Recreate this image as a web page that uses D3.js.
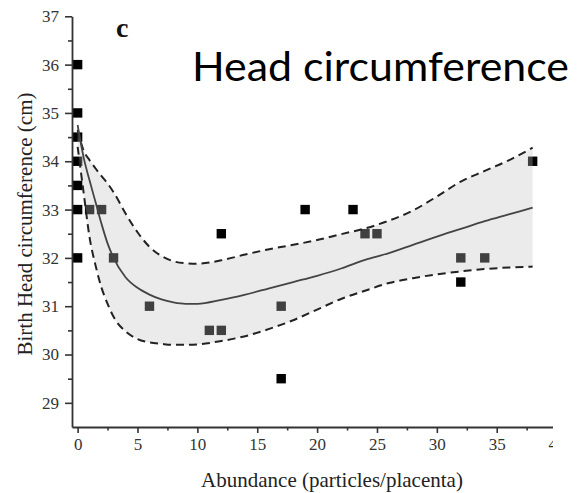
<!DOCTYPE html>
<html><head><meta charset="utf-8">
<script src="https://cdn.jsdelivr.net/npm/d3@7"></script>
<style>html,body{margin:0;padding:0;background:#fff}svg{display:block}</style>
</head><body>
<svg id="chart" width="585" height="493"></svg>
<script>
// ---- data ----
const pointX = [0,0,0,0,0,0,0,1,2,3,6,11,12,12,17,17,19,23,24,25,32,34,32,38];
const pointY = [36,35,34.5,34,33.5,33,32,33,33,32,31,30.5,30.5,32.5,31,29.5,33,33,32.5,32.5,32,32,31.5,34];
const curveX = [0,0.5,1,1.5,2,2.5,3,4,5,6,7,8,9,10,12,14,16,18,20,22,24,26,28,30,32,34,36,38];
const fitY   = [34.75,34.08,33.6,33.15,32.7,32.3,32.0,31.6,31.38,31.24,31.14,31.08,31.05,31.05,31.13,31.24,31.37,31.5,31.63,31.78,31.96,32.1,32.27,32.44,32.6,32.76,32.9,33.04];
const upperY = [34.65,34.22,34.02,33.85,33.69,33.54,33.36,32.92,32.53,32.23,32.04,31.93,31.89,31.88,31.95,32.07,32.18,32.27,32.37,32.49,32.61,32.77,32.98,33.27,33.58,33.8,34.02,34.28];
const lowerY = [34.3,33.35,32.42,31.84,31.38,31.05,30.78,30.48,30.32,30.25,30.22,30.2,30.2,30.21,30.28,30.38,30.53,30.71,30.93,31.15,31.32,31.48,31.58,31.66,31.72,31.77,31.8,31.82];
const xTicks = [0,5,10,15,20,25,30,35,40];
const xMinor = [2.5,7.5,12.5,17.5,22.5,27.5,32.5,37.5];
const yTicks = [29,30,31,32,33,34,35,36,37];
const yMinor = [29.5,30.5,31.5,32.5,33.5,34.5,35.5,36.5];
const xLabel = "Abundance (particles/placenta)";
const yLabel = "Birth Head circumference (cm)";
const panelLabel = "c";
const title = "Head circumference";

// ---- chart ----
const svg = d3.select("#chart");
const x = d3.scaleLinear().domain([-0.47, 39.7]).range([72, 553]);
const y = d3.scaleLinear().domain([28.5, 37]).range([427, 16.3]);
const serif = "'Liberation Serif','Times New Roman',serif";
const axisColor = "#333";

// points
svg.append("g").selectAll("rect").data(pointX.map((d,i)=>[d,pointY[i]])).join("rect")
  .attr("x", d=>x(d[0])-4.7).attr("y", d=>y(d[1])-4.7)
  .attr("width", 9.4).attr("height", 9.4).attr("fill", "#000");

const curve = curveX.map((d,i)=>({x:d, f:fitY[i], u:upperY[i], l:lowerY[i]}));
// band
svg.append("path").datum(curve)
  .attr("d", d3.area().x(d=>x(d.x)).y0(d=>y(d.l)).y1(d=>y(d.u)).curve(d3.curveMonotoneX))
  .attr("fill", "rgb(194,194,194)").attr("fill-opacity", 0.33);
// dashed bounds
[ "u", "l" ].forEach(k=>{
  svg.append("path").datum(curve)
    .attr("d", d3.line().x(d=>x(d.x)).y(d=>y(d[k])).curve(d3.curveMonotoneX))
    .attr("fill","none").attr("stroke","#222").attr("stroke-width",2)
    .attr("stroke-dasharray","8,5");
});
// fit
svg.append("path").datum(curve)
  .attr("d", d3.line().x(d=>x(d.x)).y(d=>y(d.f)).curve(d3.curveMonotoneX))
  .attr("fill","none").attr("stroke","#444").attr("stroke-width",1.8);

// axes
svg.append("clipPath").attr("id","xclip").append("rect")
  .attr("x",0).attr("y",0).attr("width",553).attr("height",493);
const gx = svg.append("g").attr("clip-path","url(#xclip)");
gx.append("g").attr("transform","translate(0,427)")
  .call(d3.axisBottom(x).tickValues(xTicks).tickSize(6).tickSizeOuter(0).tickPadding(5));
gx.append("g").attr("transform","translate(0,427)")
  .call(d3.axisBottom(x).tickValues(xMinor).tickSize(3.5).tickSizeOuter(0).tickFormat(""))
  .select(".domain").remove();
svg.append("g").attr("transform","translate(72,0)")
  .call(d3.axisLeft(y).tickValues(yTicks).tickSize(7).tickSizeOuter(0).tickPadding(6));
svg.append("g").attr("transform","translate(72,0)")
  .call(d3.axisLeft(y).tickValues(yMinor).tickSize(4).tickSizeOuter(0).tickFormat(""))
  .select(".domain").remove();
svg.selectAll(".domain").attr("stroke",axisColor).attr("stroke-width",1.8);
svg.selectAll(".tick line").attr("stroke",axisColor).attr("stroke-width",1.6);
svg.selectAll(".tick text").attr("fill","#333").style("font-family",serif).style("font-size","17px");

// labels
svg.append("text").attr("x",332).attr("y",487).attr("text-anchor","middle")
  .style("font-family",serif).style("font-size","21px").attr("fill","#222").text(xLabel);
svg.append("text").attr("transform","translate(32,224) rotate(-90)").attr("text-anchor","middle")
  .style("font-family",serif).style("font-size","21px").attr("fill","#222").text(yLabel);
svg.append("text").attr("x",116).attr("y",37)
  .style("font-family",serif).style("font-size","28px").style("font-weight","bold").attr("fill","#111").text(panelLabel);
svg.append("text").attr("x",192).attr("y",81)
  .attr("textLength",377).attr("lengthAdjust","spacingAndGlyphs")
  .style("font-family","Lato,'Open Sans',sans-serif").style("font-size","40px").attr("fill","#000").text(title);
</script>
</body></html>
